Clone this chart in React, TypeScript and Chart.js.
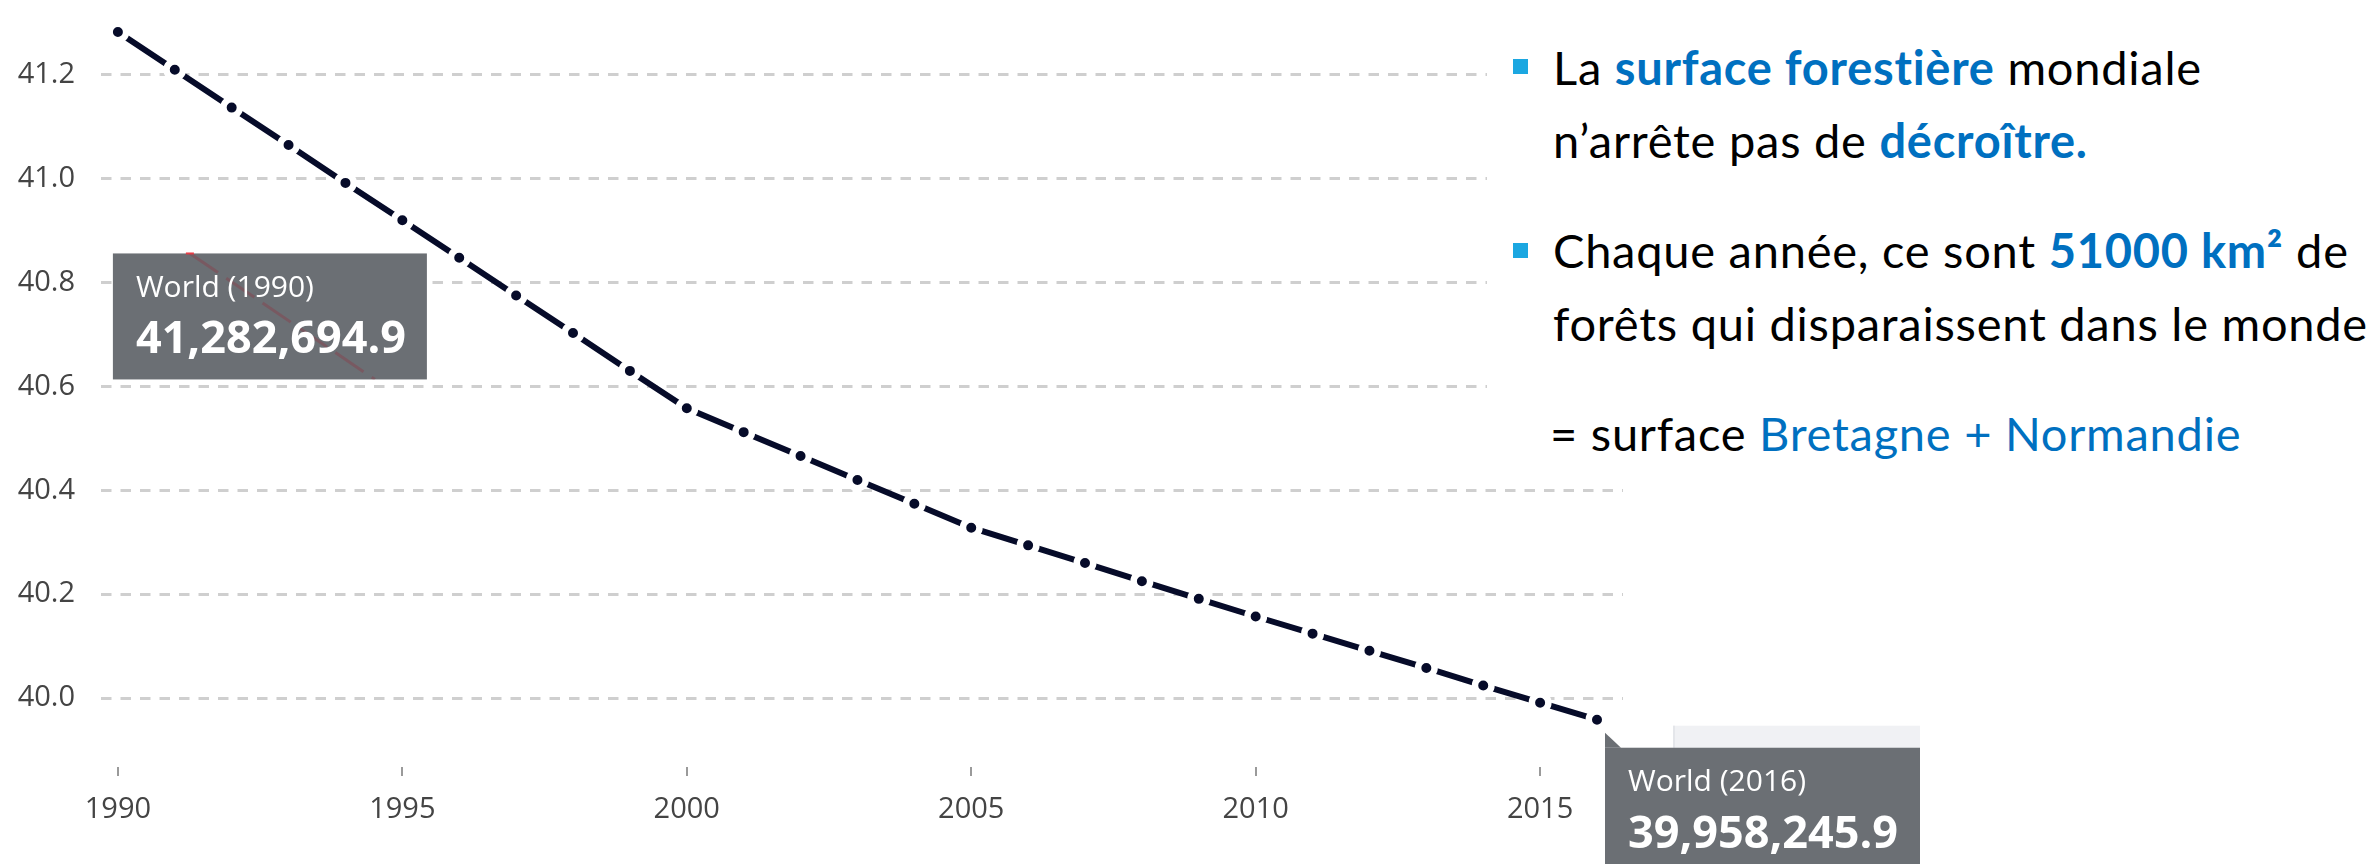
import React, { useEffect, useRef } from "react";
import { Chart, registerables } from "chart.js";

Chart.register(...registerables);

// ---- Data -------------------------------------------------------------
const YEARS = [
  1990, 1991, 1992, 1993, 1994, 1995, 1996, 1997, 1998, 1999,
  2000, 2001, 2002, 2003, 2004, 2005, 2006, 2007, 2008, 2009,
  2010, 2011, 2012, 2013, 2014, 2015, 2016,
];
// Forest area, World (sq. km)
const FOREST_AREA_KM2 = [
  41282694.9, 41210000, 41137000, 41065000, 40992000, 40920000, 40848000,
  40775000, 40703000, 40630000, 40558000, 40512000, 40466000, 40420000,
  40374000, 40328000, 40294000, 40260000, 40225000, 40191000, 40157000,
  40124000, 40091000, 40058000, 40024000, 39991000, 39958245.9,
];
const X_TICKS = [1990, 1995, 2000, 2005, 2010, 2015];
const Y_TICKS = [40000000, 40200000, 40400000, 40600000, 40800000, 41000000, 41200000];
const SERIES_NAME = "World";
const TOOLTIP_YEARS = [1990, 2016];

// ---- Style ------------------------------------------------------------
const W = 2369;
const H = 864;
const LINE_COLOR = "#060b29";
const TIP_BG = "#6b6f74";
const BLUE = "#0070c0";
const BULLET = "#1ba7e1";

export default function App() {
  const ref = useRef<HTMLCanvasElement | null>(null);

  useEffect(() => {
    const canvas = ref.current;
    if (!canvas) return;
    const fmt = (v: number) =>
      v.toLocaleString("en-US", { minimumFractionDigits: 1, maximumFractionDigits: 1 });

    const drawTipText = (ctx: CanvasRenderingContext2D, left: number, top: number, title: string, value: string) => {
      ctx.fillStyle = "#ffffff";
      ctx.textAlign = "left";
      ctx.textBaseline = "alphabetic";
      ctx.font = '30px "Open Sans"';
      ctx.fillText(title, left + 23, top + 43.5);
      ctx.font = 'bold 45px "Open Sans"';
      ctx.fillText(value, left + 23, top + 100);
    };

    const tipsPlugin = {
      id: "staticTips",
      afterDatasetsDraw(chart: any) {
        const ctx: CanvasRenderingContext2D = chart.ctx;
        const meta = chart.getDatasetMeta(0);
        ctx.save();
        // first tooltip (1990)
        {
          const i = YEARS.indexOf(TOOLTIP_YEARS[0]);
          const p = meta.data[i];
          const left = p.x - 5;
          const top = p.y + 221.5;
          const w = 314;
          const h = 126;
          ctx.fillStyle = TIP_BG;
          ctx.fillRect(left, top, w, h);
          // faint series seen through the tooltip
          ctx.save();
          ctx.beginPath();
          ctx.rect(left, top, w, h);
          ctx.clip();
          ctx.strokeStyle = "rgba(150,45,60,0.32)";
          ctx.lineWidth = 3;
          ctx.setLineDash([34, 10]);
          ctx.beginPath();
          ctx.moveTo(left + 77, top);
          ctx.lineTo(left + 262, top + 126);
          ctx.stroke();
          ctx.restore();
          ctx.fillStyle = "rgba(235,50,60,0.9)";
          ctx.fillRect(left + 73, top - 1, 8, 2);
          drawTipText(ctx, left, top, `${SERIES_NAME} (${YEARS[i]})`, fmt(FOREST_AREA_KM2[i]));
        }
        // second tooltip (2016)
        {
          const i = YEARS.indexOf(TOOLTIP_YEARS[1]);
          const p = meta.data[i];
          const left = p.x + 8;
          const top = p.y + 28;
          const w = 315;
          // light panel behind
          ctx.fillStyle = "#f0f1f4";
          ctx.fillRect(p.x + 76, p.y + 6, left + w - (p.x + 76), top - (p.y + 6));
          ctx.fillStyle = "#e4e6ea";
          ctx.fillRect(p.x + 76, p.y + 6, 2, top - (p.y + 6));
          ctx.fillStyle = TIP_BG;
          ctx.beginPath();
          ctx.moveTo(left, top - 15);
          ctx.lineTo(left + 16, top);
          ctx.lineTo(left, top);
          ctx.closePath();
          ctx.fill();
          ctx.fillRect(left, top, w, H - top + 10);
          drawTipText(ctx, left, top, `${SERIES_NAME} (${YEARS[i]})`, fmt(FOREST_AREA_KM2[i]));
        }
        ctx.restore();
      },
    };

    const chart = new Chart(canvas, {
      type: "line",
      data: {
        datasets: [
          {
            label: SERIES_NAME,
            data: YEARS.map((y, i) => ({ x: y, y: FOREST_AREA_KM2[i] })),
            borderColor: LINE_COLOR,
            borderWidth: 6,
            pointRadius: 8.25,
            pointBorderWidth: 6.5,
            pointBackgroundColor: LINE_COLOR,
            pointBorderColor: "#ffffff",
            tension: 0,
            clip: 20,
          },
        ],
      },
      options: {
        responsive: false,
        animation: false,
        devicePixelRatio: 1,
        layout: { padding: { left: 0, top: 0, right: W - 1623, bottom: 0 } },
        plugins: { legend: { display: false }, tooltip: { enabled: false } },
        scales: {
          x: {
            type: "linear",
            min: 1989.703,
            max: 2016.457,
            afterBuildTicks: (s: any) => {
              s.ticks = X_TICKS.map((v) => ({ value: v }));
            },
            afterFit: (s: any) => {
              s.height = 97;
              s.paddingLeft = 0;
              s.paddingRight = 0;
            },
            grid: {
              display: true,
              drawOnChartArea: false,
              drawTicks: true,
              tickLength: 9,
              color: "#9a9a9a",
              lineWidth: 2,
            },
            border: { display: false },
            ticks: {
              font: { family: "Open Sans", size: 29 },
              color: "#444444",
              padding: 16,
              autoSkip: false,
              maxRotation: 0,
              callback: (v: any) => String(v),
            },
          },
          y: {
            type: "linear",
            min: 39867200,
            max: 41315800,
            afterBuildTicks: (s: any) => {
              s.ticks = Y_TICKS.map((v) => ({ value: v }));
            },
            afterFit: (s: any) => {
              s.width = 101;
              s.paddingTop = 0;
              s.paddingBottom = 0;
            },
            grid: { color: "#cfcfcf", lineWidth: 3, drawTicks: false },
            border: { display: false, dash: [10.5, 9] },
            ticks: {
              font: { family: "Open Sans", size: 29 },
              color: "#444444",
              padding: 26,
              callback: (v: any) => (Number(v) / 1e6).toFixed(1),
            },
          },
        },
      },
      plugins: [tipsPlugin],
    } as any);

    let alive = true;
    if ((document as any).fonts) {
      Promise.all([
        document.fonts.load('30px "Open Sans"'),
        document.fonts.load('bold 45px "Open Sans"'),
      ])
        .then(() => {
          if (alive) chart.update();
        })
        .catch(() => {});
    }
    return () => {
      alive = false;
      chart.destroy();
    };
  }, []);

  const lineStyle = (top: number, left = 66): React.CSSProperties => ({
    position: "absolute",
    left,
    top,
    lineHeight: "56.4px",
    whiteSpace: "nowrap",
  });
  const bulletStyle = (top: number): React.CSSProperties => ({
    position: "absolute",
    left: 26,
    top,
    width: 15,
    height: 15,
    background: BULLET,
  });
  const blueBold: React.CSSProperties = { color: BLUE, fontWeight: 700 };

  return (
    <div
      style={{
        position: "absolute",
        left: 0,
        top: 0,
        width: W,
        height: H,
        background: "#ffffff",
        overflow: "hidden",
      }}
    >
      <canvas ref={ref} width={W} height={H} style={{ position: "absolute", left: 0, top: 0, width: W, height: H }} />
      <div
        style={{
          position: "absolute",
          left: 1487,
          top: 0,
          width: W - 1487,
          height: 470,
          background: "#ffffff",
          fontFamily: "Lato, sans-serif",
          fontSize: 47,
          color: "#000000",
          letterSpacing: "0.75px",
        }}
      >
        <div style={bulletStyle(59)} />
        <div style={lineStyle(38.6)}>
          La <span style={blueBold}>surface forestière</span> mondiale
        </div>
        <div style={lineStyle(111.6)}>
          n’arrête pas de <span style={blueBold}>décroître.</span>
        </div>
        <div style={bulletStyle(243)} />
        <div style={lineStyle(221.6)}>
          Chaque année, ce sont <span style={blueBold}>51000 km²</span> de
        </div>
        <div style={lineStyle(294.6)}>forêts qui disparaissent dans le monde</div>
        <div style={lineStyle(404.6, 63)}>
          = surface <span style={{ color: BLUE }}>Bretagne + Normandie</span>
        </div>
      </div>
    </div>
  );
}
